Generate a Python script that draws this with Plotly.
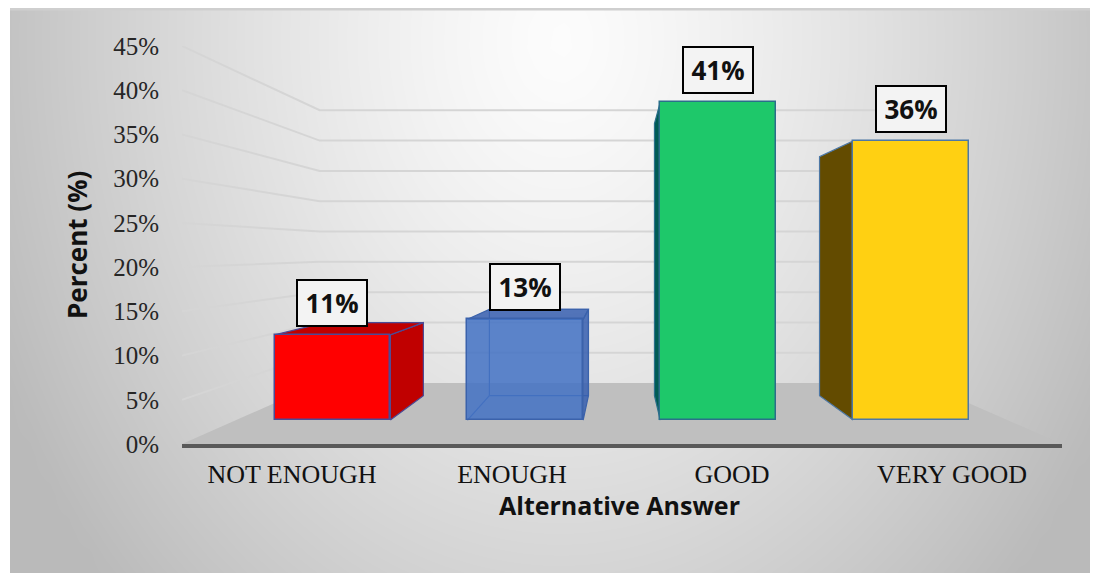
import numpy as np
import plotly.graph_objects as go

# ---------------- data ----------------
categories = ["NOT ENOUGH", "ENOUGH", "GOOD", "VERY GOOD"]
percent_values = [11, 13, 41, 36]
y_ticks = [0, 5, 10, 15, 20, 25, 30, 35, 40, 45]
y_tick_labels = [f"{t}%" for t in y_ticks]
y_title = "Percent (%)"
x_title = "Alternative Answer"

# ---------------- styling ----------------
front_colors = ["#ff0000", "rgba(68,114,196,0.86)", "#1ec86a", "#ffd012"]
side_colors = ["#c00000", "rgba(56,96,176,0.86)", "#005c54", "#634b00"]
edge_colors = ["#4b4b96", "#3b62ab", "#2a6f8a", "#4d78a6"]
see_through = [False, True, False, False]

W, H = 1098, 573          # target picture size
OFF = 8                   # page body margin
FW, FH = W - OFF, H - OFF  # figure size


def fx(px):  # reference pixel x -> paper fraction
    return (px - OFF) / FW


def fy(py):  # reference pixel y -> paper fraction
    return 1 - (py - OFF) / FH


DOM_X = [fx(182), fx(1062)]
DOM_Y = [fy(444), fy(46)]
XR = [-0.5, len(categories) - 0.5]
YR = [y_ticks[0], y_ticks[-1]]

# one-point perspective (vanishing point in front-axis data units)
VP = (1.49, 21.9)
D_FRONT = 0.1235   # depth of bar front faces
D_BACK = 0.2497    # depth of bar back faces
D_FLOOR = 0.3145   # depth of back wall
HALF = 0.3         # half bar width (world units)


def proj(X, Y, d):
    s = 1 - d
    return VP[0] + (X - VP[0]) * s, VP[1] + (Y - VP[1]) * s


def poly(points):
    xs = [p[0] for p in points] + [points[0][0]]
    ys = [p[1] for p in points] + [points[0][1]]
    return xs, ys


fig = go.Figure()

# ---- background shading (styling only) ----
bg_x = np.linspace(10, W, 56)
bg_y = np.linspace(9, H, 30)
gx, gy = np.meshgrid(bg_x, bg_y)
rr = np.sqrt(((gx - 560) / 560) ** 2 + ((gy - 40) / 720) ** 2)
bg_z = np.clip(252 - 58 * rr ** 1.3, 186, 255)
fig.add_trace(go.Heatmap(
    x=bg_x, y=bg_y, z=bg_z, zmin=0, zmax=255, zsmooth="best",
    colorscale=[[0, "rgb(0,0,0)"], [1, "rgb(255,255,255)"]],
    showscale=False, hoverinfo="skip", xaxis="x", yaxis="y"))

# ---- floor ----
flx, fly = poly([proj(XR[0], 0, 0), proj(XR[1], 0, 0),
                 proj(XR[1], 0, D_FLOOR), proj(XR[0], 0, D_FLOOR)])
fig.add_trace(go.Scatter(x=flx, y=fly, mode="lines", fill="toself",
                         fillcolor="#bfbfbf", line=dict(width=0),
                         hoverinfo="skip", xaxis="x2", yaxis="y2"))

# ---- perspective gridlines (side wall + back wall) ----
gxs, gys = [], []
for t in y_ticks[1:]:
    for p in (proj(XR[0], t, 0), proj(XR[0], t, D_FLOOR), proj(XR[1], t, D_FLOOR)):
        gxs.append(p[0]); gys.append(p[1])
    gxs.append(None); gys.append(None)
fig.add_trace(go.Scatter(x=gxs, y=gys, mode="lines",
                         line=dict(color="#d5d5d5", width=2),
                         hoverinfo="skip", xaxis="x2", yaxis="y2"))

# ---- bar side / top faces ----
for i, v in enumerate(percent_values):
    xl, xr = i - HALF, i + HALF
    faces = []
    if see_through[i]:
        bx, by = poly([proj(xl, 0, D_BACK), proj(xr, 0, D_BACK),
                       proj(xr, v, D_BACK), proj(xl, v, D_BACK)])
        e1, e2 = proj(xl, 0, D_FRONT), proj(xl, 0, D_BACK)
        fig.add_trace(go.Scatter(x=bx + [None, e1[0], e2[0]], y=by + [None, e1[1], e2[1]],
                                 mode="lines", line=dict(color=edge_colors[i], width=1.2),
                                 hoverinfo="skip", xaxis="x2", yaxis="y2"))
    if xr < VP[0]:
        faces.append([proj(xr, 0, D_FRONT), proj(xr, v, D_FRONT),
                      proj(xr, v, D_BACK), proj(xr, 0, D_BACK)])
    elif xl > VP[0]:
        faces.append([proj(xl, 0, D_FRONT), proj(xl, v, D_FRONT),
                      proj(xl, v, D_BACK), proj(xl, 0, D_BACK)])
    if v < VP[1]:
        faces.append([proj(xl, v, D_FRONT), proj(xr, v, D_FRONT),
                      proj(xr, v, D_BACK), proj(xl, v, D_BACK)])
    for f in faces:
        px_, py_ = poly(f)
        fig.add_trace(go.Scatter(x=px_, y=py_, mode="lines", fill="toself",
                                 fillcolor=side_colors[i],
                                 line=dict(color=edge_colors[i], width=1.2),
                                 hoverinfo="skip", xaxis="x2", yaxis="y2"))

# ---- bar front faces (actual bars) ----
fig.add_trace(go.Bar(
    x=list(range(len(categories))), y=percent_values, width=2 * HALF,
    marker=dict(color=front_colors, line=dict(color=edge_colors, width=1.5)),
    hovertext=categories, xaxis="x3", yaxis="y3"))

x3_range = [(XR[0] - VP[0] * D_FRONT) / (1 - D_FRONT), (XR[1] - VP[0] * D_FRONT) / (1 - D_FRONT)]
y3_range = [(YR[0] - VP[1] * D_FRONT) / (1 - D_FRONT), (YR[1] - VP[1] * D_FRONT) / (1 - D_FRONT)]

annotations = []
for i, v in enumerate(percent_values):
    annotations.append(dict(
        x=i, y=v, xref="x3", yref="y3", text=f"<b>{v}%</b>", showarrow=False,
        xanchor="center", yanchor="bottom", yshift=8,
        font=dict(family="Open Sans", size=26, color="#111111"),
        bgcolor="#f3f3f3", bordercolor="#000000", borderwidth=2, borderpad=0,
        width=68, height=44))
annotations.append(dict(
    x=fx(77), y=fy(245), xref="paper", yref="paper", text=f"<b>{y_title}</b>",
    textangle=-90, showarrow=False, xanchor="center", yanchor="middle",
    font=dict(family="Open Sans", size=26, color="#111111")))
annotations.append(dict(
    x=fx(619), y=fy(505), xref="paper", yref="paper", text=f"<b>{x_title}</b>",
    showarrow=False, xanchor="center", yanchor="middle",
    font=dict(family="Open Sans", size=25, color="#111111")))

fig.update_layout(
    template="none",
    width=FW, height=FH, margin=dict(l=0, r=0, t=0, b=0, pad=0, autoexpand=False),
    paper_bgcolor="#ffffff", plot_bgcolor="rgba(0,0,0,0)",
    showlegend=False, bargap=0,
    xaxis=dict(domain=[fx(10), 1], range=[10, W], visible=False, fixedrange=True,
               automargin=False),
    yaxis=dict(domain=[0, fy(9)], range=[H, 9], visible=False, fixedrange=True,
               automargin=False),
    xaxis2=dict(domain=DOM_X, range=XR, anchor="y2", showgrid=False, zeroline=False,
                showline=True, linecolor="#595959", linewidth=4, automargin=False,
                tickmode="array", tickvals=list(range(len(categories))), ticktext=categories,
                ticks="", ticklabelstandoff=4,
                tickfont=dict(family="Liberation Serif", size=26, color="#111111")),
    yaxis2=dict(domain=DOM_Y, range=YR, anchor="x2", showgrid=False, zeroline=False,
                showline=False, automargin=False,
                tickmode="array", tickvals=y_ticks, ticktext=y_tick_labels,
                ticks="", ticklabelstandoff=22,
                tickfont=dict(family="Liberation Serif", size=25, color="#262626")),
    xaxis3=dict(overlaying="x2", anchor="y3", range=x3_range, visible=False, automargin=False),
    yaxis3=dict(overlaying="y2", anchor="x3", range=y3_range, visible=False, automargin=False),
    annotations=annotations,
    shapes=[dict(type="line", xref="paper", yref="paper", x0=fx(10), x1=1,
                 y0=fy(9), y1=fy(9), line=dict(color="#cfcfcf", width=3))],
)

fig.write_html("out.html")
